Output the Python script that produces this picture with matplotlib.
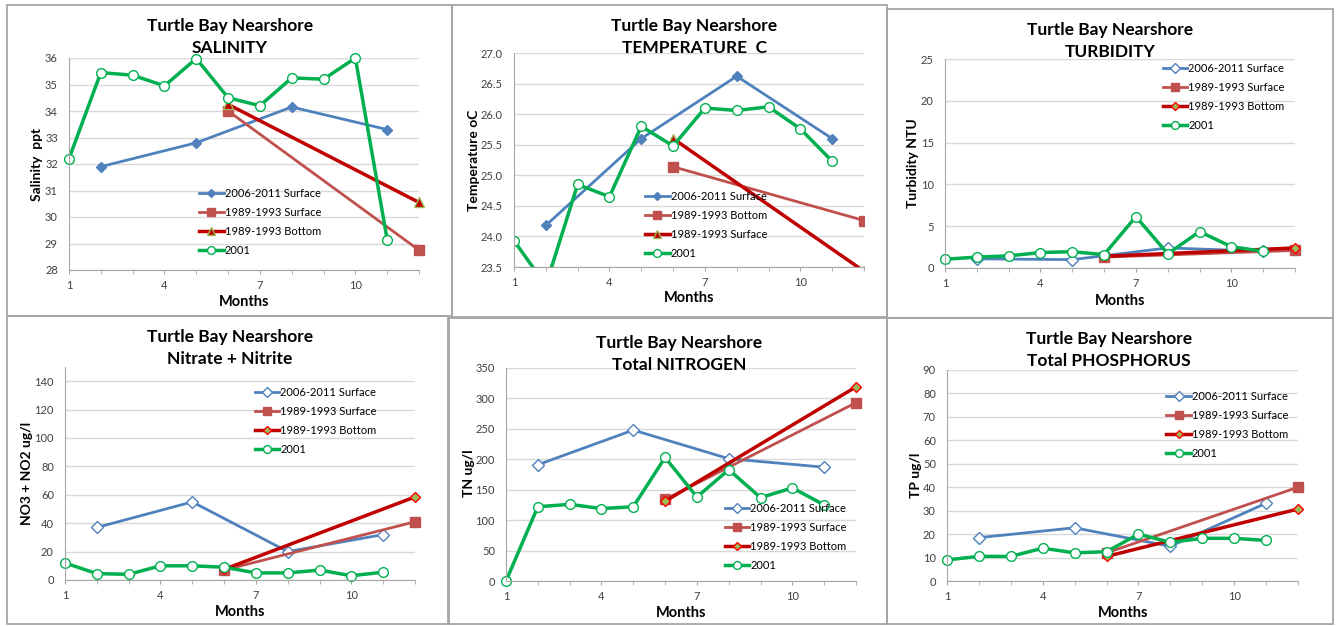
import matplotlib.pyplot as plt
from matplotlib.patches import Rectangle
from matplotlib.ticker import MultipleLocator, FixedLocator

# --- Data ---
months_2001 = [1, 2, 3, 4, 5, 6, 7, 8, 9, 10, 11]
months_0611 = [2, 5, 8, 11]
months_8993 = [6, 12]

# Salinity ppt
sal_0611 = [31.9, 32.8, 34.15, 33.3]
sal_89_surf = [34.0, 28.75]
sal_89_bot = [34.25, 30.55]
sal_2001 = [32.2, 35.45, 35.35, 34.95, 35.98, 34.5, 34.2, 35.25, 35.2, 36.0, 29.15]

# Temperature C (series labels swapped in the original legend)
temp_0611 = [24.18, 25.6, 26.62, 25.6]
temp_89_sq = [25.14, 24.26]
temp_89_tri = [25.6, 23.43]
temp_2001 = [23.93, 23.2, 24.85, 24.65, 25.8, 25.48, 26.1, 26.06, 26.12, 25.76, 25.23]

# Turbidity NTU
turb_0611 = [1.1, 1.0, 2.4, 2.0]
turb_89_surf = [1.3, 2.1]
turb_89_bot = [1.4, 2.4]
turb_2001 = [1.05, 1.3, 1.45, 1.85, 1.95, 1.6, 6.15, 1.7, 4.35, 2.55, 2.0]

# Nitrate + Nitrite ug/l
no3_0611 = [37, 55, 20, 32]
no3_89_surf = [7, 41]
no3_89_bot = [7.5, 58.5]
no3_2001 = [12, 4.5, 4, 10, 10, 9, 5, 5, 7, 3, 5.5]

# Total nitrogen ug/l
tn_0611 = [191, 248, 201, 187]
tn_89_surf = [134, 293]
tn_89_bot = [131, 319]
tn_2001 = [0, 122, 126, 119, 122, 203, 138, 183, 137, 153, 125]

# Total phosphorus ug/l
tp_0611 = [18.5, 22.7, 14.8, 33.2]
tp_89_surf = [12, 40]
tp_89_bot = [10.5, 30.7]
tp_2001 = [9, 10.5, 10.5, 14, 12, 12.5, 20, 16.5, 18.2, 18.2, 17.3]

BLUE = '#4F81BD'
LRED = '#C0504D'
DRED = '#C00000'
GREEN = '#00B050'
OLIVE = '#9BBB59'

W, H = 1338, 626
fig = plt.figure(figsize=(W / 100, H / 100), dpi=100)
plt.rcParams['font.family'] = ['Lato', 'DejaVu Sans']


def box(x0, y0, x1, y1, color='#A6A6A6'):
    fig.add_artist(Rectangle((x0 / W, 1 - y1 / H), (x1 - x0) / W, (y1 - y0) / H,
                             transform=fig.transFigure, fill=False, ec=color, lw=1.3))


def panel(px, title2, ylabel, ylim, ystep, series, leg_xy, title_xy, ylab_xy, xlab_xy,
          clip=False):
    left, right, top, bottom = px
    ax = fig.add_axes([left / W, 1 - bottom / H, (right - left) / W, (bottom - top) / H])
    for xs, ys, kw in series:
        ax.plot(xs, ys, clip_on=clip, **kw)
    ax.set_xlim(1, 12)
    ax.set_ylim(*ylim)
    ax.xaxis.set_major_locator(FixedLocator([1, 4, 7, 10]))
    ax.xaxis.set_minor_locator(MultipleLocator(1))
    ax.yaxis.set_major_locator(MultipleLocator(ystep))
    ax.grid(axis='y', color='#D9D9D9', lw=1)
    ax.set_axisbelow(True)
    for s in ['top', 'right']:
        ax.spines[s].set_visible(False)
    for s in ['left', 'bottom']:
        ax.spines[s].set_color('#A6A6A6')
    ax.tick_params(axis='x', which='both', length=3, color='#A6A6A6', labelsize=8,
                   labelcolor='#404040', pad=4)
    ax.tick_params(axis='y', length=0, labelsize=8, labelcolor='#404040', pad=8)
    if ystep < 1:
        ax.yaxis.set_major_formatter(plt.FormatStrFormatter('%.1f'))
    ax.legend(loc='upper left', bbox_to_anchor=leg_xy, frameon=False, fontsize=8,
              borderpad=0, borderaxespad=0, handlelength=2.2, handletextpad=0.1,
              labelspacing=0.72, markerscale=0.8)
    tx, ty = title_xy
    fig.text(tx / W, 1 - ty / H, 'Turtle Bay Nearshore', ha='center', va='center',
             fontsize=12.5, fontweight='bold')
    fig.text(tx / W, 1 - (ty + 22) / H, title2, ha='center', va='center',
             fontsize=12.5, fontweight='bold')
    fig.text(ylab_xy[0] / W, 1 - ylab_xy[1] / H, ylabel, rotation=90, ha='center',
             va='center', fontsize=10, fontweight='bold')
    fig.text(xlab_xy[0] / W, 1 - xlab_xy[1] / H, 'Months', ha='center', va='center',
             fontsize=10.5, fontweight='bold')
    return ax


def style_a(blue_lbl, sq_lbl, tri_lbl):
    return [
        dict(color=BLUE, lw=2, marker='D', ms=5, mfc=BLUE, mec=BLUE, label=blue_lbl),
        dict(color=LRED, lw=2, marker='s', ms=6.5, mfc=LRED, mec=LRED, label=sq_lbl),
        dict(color=DRED, lw=2.5, marker='^', ms=6.5, mfc=DRED, mec=OLIVE, label=tri_lbl),
        dict(color=GREEN, lw=2.5, marker='o', ms=7, mfc='white', mec=GREEN, label='2001'),
    ]


def style_b():
    return [
        dict(color=BLUE, lw=2, marker='D', ms=6, mfc='white', mec=BLUE, label='2006-2011 Surface'),
        dict(color=LRED, lw=2, marker='s', ms=7, mfc=LRED, mec=LRED, label='1989-1993 Surface'),
        dict(color=DRED, lw=2.5, marker='D', ms=5, mfc=OLIVE, mec='#FF0000', label='1989-1993 Bottom'),
        dict(color=GREEN, lw=2.5, marker='o', ms=7, mfc='white', mec=GREEN, label='2001'),
    ]


def build(data, styles):
    xs = [months_0611, months_8993, months_8993, months_2001]
    return [(x, y, s) for x, y, s in zip(xs, data, styles)]


# panel borders
box(7, 5, 452, 316)
box(452, 5, 887, 317)
box(887, 9, 1333, 318)
box(7, 316, 448, 624)
box(449, 318, 887, 624)
box(887, 318, 1333, 624)

sa = style_a('2006-2011 Surface', '1989-1993 Surface', '1989-1993 Bottom')
panel((69, 419, 58, 270), 'SALINITY', 'Salinity  ppt', (28, 36), 1,
      build([sal_0611, sal_89_surf, sal_89_bot, sal_2001], sa),
      (0.372, 0.385), (230, 26), (37, 164), (244, 302))

st = style_a('2006-2011 Surface', '1989-1993 Bottom', '1989-1993 Surface')
panel((514, 864, 53, 267), 'TEMPERATURE  C', 'Temperature oC', (23.5, 27.0), 0.5,
      build([temp_0611, temp_89_sq, temp_89_tri, temp_2001], st),
      (0.375, 0.356), (694, 26), (474, 160), (689, 298), clip=True)

panel((945, 1295, 59, 268), 'TURBIDITY', 'Turbidity NTU', (0, 25), 5,
      build([turb_0611, turb_89_surf, turb_89_bot, turb_2001], style_b()),
      (0.622, 0.983), (1110, 30), (913, 163), (1120, 301))

panel((65, 415, 367, 580), 'Nitrate + Nitrite', 'NO3 + NO2 ug/l', (0, 150), 20,
      build([no3_0611, no3_89_surf, no3_89_bot, no3_2001], style_b()),
      (0.542, 0.906), (230, 337), (27, 473), (240, 612))

panel((506, 856, 368, 581), 'Total NITROGEN', 'TN ug/l', (0, 350), 50,
      build([tn_0611, tn_89_surf, tn_89_bot, tn_2001], style_b()),
      (0.625, 0.366), (679, 343), (469, 473), (681, 613))

panel((947, 1298, 370, 581), 'Total PHOSPHORUS', 'TP ug/l', (0, 90), 10,
      build([tp_0611, tp_89_surf, tp_89_bot, tp_2001], style_b()),
      (0.625, 0.90), (1109, 339), (916, 475), (1123, 613))

fig.savefig('out.png', dpi=100)
